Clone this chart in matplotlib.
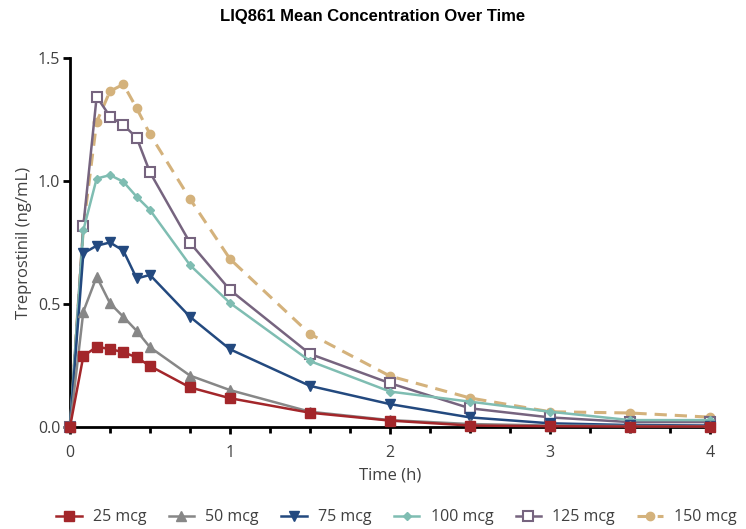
import matplotlib.pyplot as plt
import numpy as np

# sampling times (h)
times = [0, 1/12, 1/6, 0.25, 1/3, 5/12, 0.5, 0.75, 1, 1.5, 2, 2.5, 3, 3.5, 4]

labels = ["25 mcg", "50 mcg", "75 mcg", "100 mcg", "125 mcg", "150 mcg"]

mcg25 = [0, 0.288, 0.326, 0.317, 0.304, 0.283, 0.248, 0.161, 0.117, 0.058, 0.026, 0.006, 0.003, 0.002, 0.002]
mcg50 = [0, 0.469, 0.611, 0.503, 0.448, 0.391, 0.324, 0.209, 0.150, 0.062, 0.028, 0.012, 0.006, 0.004, 0.003]
mcg75 = [0, 0.706, 0.737, 0.750, 0.717, 0.604, 0.618, 0.448, 0.316, 0.167, 0.093, 0.039, 0.015, 0.008, 0.006]
mcg100 = [0, 0.800, 1.010, 1.024, 0.997, 0.936, 0.882, 0.658, 0.504, 0.268, 0.144, 0.103, 0.062, 0.028, 0.028]
mcg125 = [0, 0.818, 1.343, 1.262, 1.228, 1.176, 1.035, 0.749, 0.557, 0.297, 0.178, 0.076, 0.039, 0.020, 0.020]
mcg150 = [0, 0.810, 1.240, 1.365, 1.393, 1.296, 1.190, 0.927, 0.683, 0.378, 0.207, 0.118, 0.062, 0.057, 0.040]

plt.rcParams['font.family'] = ['Open Sans', 'DejaVu Sans']

fig = plt.figure(figsize=(7.46, 5.29), dpi=100)
ax = fig.add_axes([70 / 746, 102 / 529, 640 / 746, 369 / 529])

lw = 1.8
# drawn back to front
l150, = ax.plot(times, mcg150, color='#d4b27c', lw=2.2, ls=(0, (4, 2.6)), marker='o', ms=6,
                label=labels[5], clip_on=False, zorder=2)
l125, = ax.plot(times, mcg125, color='#76647f', lw=lw, marker='s', ms=7, mfc='white', mew=1.5,
                label=labels[4], clip_on=False, zorder=3)
l100, = ax.plot(times, mcg100, color='#7fbdb2', lw=lw, marker='D', ms=4.5,
                label=labels[3], clip_on=False, zorder=4)
l75, = ax.plot(times, mcg75, color='#23497f', lw=lw, marker='v', ms=6.5,
               label=labels[2], clip_on=False, zorder=5)
l50, = ax.plot(times, mcg50, color='#878787', lw=lw, marker='^', ms=6.5,
               label=labels[1], clip_on=False, zorder=6)
l25, = ax.plot(times, mcg25, color='#a3262a', lw=lw, marker='s', ms=6.5,
               label=labels[0], clip_on=False, zorder=7)

ax.set_xlim(0, 4)
ax.set_ylim(0, 1.5)
ax.set_xticks([0, 1, 2, 3, 4])
ax.set_xticks(np.arange(0, 4.01, 0.25), minor=True)
ax.set_yticks([0, 0.5, 1.0, 1.5])
ax.set_yticklabels(["0.0", "0.5", "1.0", "1.5"])

for s in ['top', 'right']:
    ax.spines[s].set_visible(False)
for s in ['left', 'bottom']:
    ax.spines[s].set_linewidth(2)
    ax.spines[s].set_color('black')

ax.tick_params(axis='both', which='major', length=5, width=2, labelsize=11.5,
               labelcolor='#404040')
ax.tick_params(axis='y', which='major', pad=2)
ax.tick_params(axis='x', which='major', pad=8)
ax.tick_params(axis='x', which='minor', length=4, width=2)

ax.set_xlabel("Time (h)", fontsize=12, color='#404040', labelpad=5)
ax.set_ylabel("Treprostinil (ng/mL)", fontsize=12, color='#404040', labelpad=4)

fig.text(0.5, 0.968, "LIQ861 Mean Concentration Over Time", ha='center', va='center',
         fontsize=12, fontweight='bold', family=['Liberation Sans', 'DejaVu Sans'])

ax.legend(handles=[l25, l50, l75, l100, l125, l150], loc='center',
          bbox_to_anchor=(0.51, -0.245), ncol=6, frameon=False,
          fontsize=11.5, handlelength=1.6, columnspacing=1.4, handletextpad=0.7,
          labelcolor='#404040')

fig.savefig("out.png", dpi=100)
